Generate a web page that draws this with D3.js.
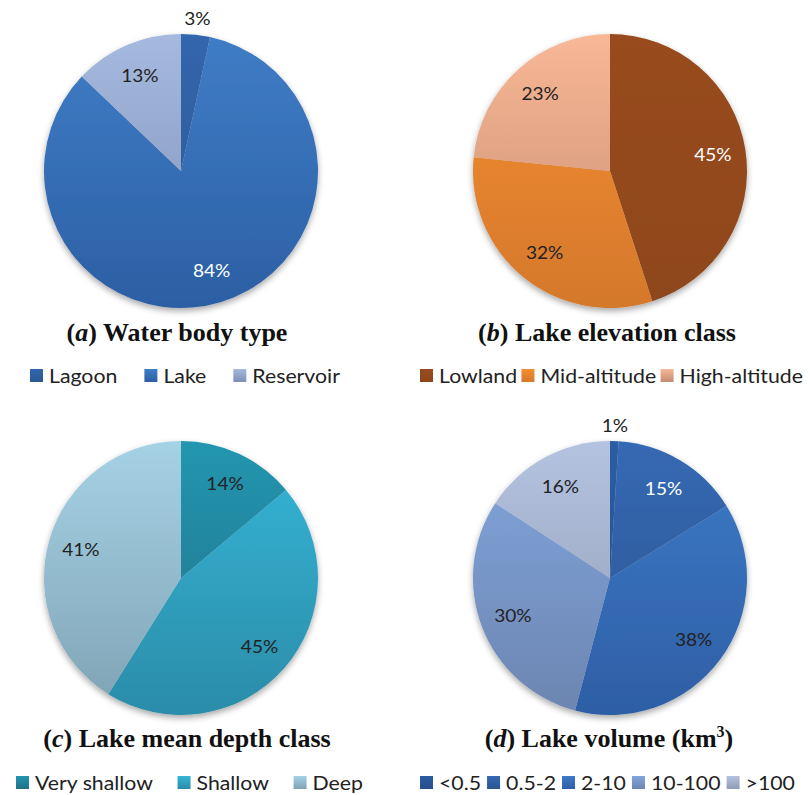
<!DOCTYPE html>
<html>
<head>
<meta charset="utf-8">
<script src="https://cdn.jsdelivr.net/npm/d3@7"></script>
<style>
  html, body { margin: 0; padding: 0; background: #fff; }
  svg { display: block; }
</style>
</head>
<body>
<svg id="chart" width="810" height="795"></svg>
<script>
// ---------- Data ----------
const waterCategories = ["Lagoon", "Lake", "Reservoir"];
const waterValues = [3.4, 83.7, 12.9];

const elevationCategories = ["Lowland", "Mid-altitude", "High-altitude"];
const elevationValues = [45, 31.6, 23.4];

const depthCategories = ["Very shallow", "Shallow", "Deep"];
const depthValues = [13.9, 45, 41.1];

const volumeCategories = ["<0.5", "0.5-2", "2-10", "10-100", ">100"];
const volumeValues = [1, 15.2, 37.9, 30.1, 15.8];

// ---------- Styles / layout ----------
const panels = [
  { cats: waterCategories, vals: waterValues, letter: "a", title: " Water body type",
    cx: 181, cy: 171, titleX: 177, titleY: 341, legendY: 376, legendX: 30, legendEnd: 340,
    top: ["#3366ad", "#3f7dc6", "#a6b9de"], bottom: ["#2a5893", "#2c5fa4", "#7d8fb6"],
    labelColors: ["#222", "#fff", "#222"] },
  { cats: elevationCategories, vals: elevationValues, letter: "b", title: " Lake elevation class",
    cx: 610, cy: 171, titleX: 607, titleY: 341, legendY: 376, legendX: 420, legendEnd: 803,
    top: ["#984c1d", "#f68e30", "#f9b897"], bottom: ["#8e461b", "#d4782c", "#c48b6f"],
    labelColors: ["#fff", "#222", "#222"] },
  { cats: depthCategories, vals: depthValues, letter: "c", title: " Lake mean depth class",
    cx: 181, cy: 578, titleX: 187, titleY: 747, legendY: 783, legendX: 16, legendEnd: 363,
    top: ["#2196b0", "#35b6d8", "#a6d2e6"], bottom: ["#226f87", "#2b8ca8", "#7fa2b4"],
    labelColors: ["#222", "#222", "#222"] },
  { cats: volumeCategories, vals: volumeValues, letter: "d", title: " Lake volume (km",
    sup: "3", cx: 610, cy: 578, titleX: 609, titleY: 747, legendY: 783, legendX: 420, legendEnd: 795,
    top: ["#2b5da3", "#3569b3", "#3d7bc8", "#82a6de", "#b4c3e0"],
    bottom: ["#264f8a", "#2a5590", "#2e5ea5", "#6c85b0", "#8f9bb6"],
    labelColors: ["#222", "#fff", "#222", "#222", "#222"] }
];

const R = 137;
const svg = d3.select("#chart");
const defs = svg.append("defs");

const shadow = defs.append("filter").attr("id", "shadow")
  .attr("x", "-20%").attr("y", "-20%").attr("width", "140%").attr("height", "140%");
shadow.append("feDropShadow").attr("dx", 0).attr("dy", 3).attr("stdDeviation", 3)
  .attr("flood-color", "#000").attr("flood-opacity", 0.35);

const pie = d3.pie().sort(null).value(d => d);
const arc = d3.arc().innerRadius(0).outerRadius(R);
const labelArc = d3.arc().innerRadius(R * 0.76).outerRadius(R * 0.76);
const outerLabelArc = d3.arc().innerRadius(R + 16).outerRadius(R + 16);

const labelFont = "Lato, 'Open Sans', sans-serif";
const STRETCH = 1.12;

panels.forEach((p, pi) => {
  const total = d3.sum(p.vals);
  const color = d3.scaleOrdinal().domain(p.cats).range(p.top);

  p.cats.forEach((c, i) => {
    const g = defs.append("linearGradient").attr("id", `g${pi}_${i}`)
      .attr("gradientUnits", "userSpaceOnUse")
      .attr("x1", 0).attr("x2", 0).attr("y1", -R).attr("y2", R);
    g.append("stop").attr("offset", "0%").attr("stop-color", color(c));
    g.append("stop").attr("offset", "100%").attr("stop-color", p.bottom[i]);
    const lgr = defs.append("linearGradient").attr("id", `lg${pi}_${i}`)
      .attr("x1", 0).attr("x2", 0).attr("y1", 0).attr("y2", 1);
    lgr.append("stop").attr("offset", "0%").attr("stop-color", color(c));
    lgr.append("stop").attr("offset", "100%").attr("stop-color", p.bottom[i]);
  });

  const arcs = pie(p.vals);
  const gPie = svg.append("g").attr("transform", `translate(${p.cx},${p.cy})`);
  gPie.append("g").attr("filter", "url(#shadow)")
    .selectAll("path").data(arcs).join("path")
    .attr("d", arc)
    .attr("fill", (d, i) => `url(#g${pi}_${i})`);

  gPie.selectAll("text.lbl").data(arcs).join("text")
    .attr("class", "lbl")
    .attr("transform", d => {
      const small = (d.value / total) < 0.05;
      const c = small ? outerLabelArc.centroid(d) : labelArc.centroid(d);
      return `translate(${c[0]},${c[1]}) scale(1.06,1)`;
    })
    .attr("text-anchor", "middle")
    .attr("dy", "0.36em")
    .attr("font-family", labelFont)
    .attr("font-size", 18)
    .attr("fill", (d, i) => (d.value / total) < 0.05 ? "#222" : p.labelColors[i])
    .text(d => Math.round(d.value / total * 100) + "%");

  // title
  const t = svg.append("text")
    .attr("x", p.titleX).attr("y", p.titleY)
    .attr("text-anchor", "middle")
    .attr("font-family", "'Liberation Serif', 'Times New Roman', serif")
    .attr("font-weight", "bold")
    .attr("font-size", 26)
    .attr("fill", "#111");
  t.append("tspan").text("(");
  t.append("tspan").attr("font-style", "italic").text(p.letter);
  t.append("tspan").text(")" + p.title);
  if (p.sup) {
    t.append("tspan").attr("font-size", 16).attr("dy", -10).text(p.sup);
    t.append("tspan").attr("dy", 10).text(")");
  }

  // legend: measure, then spread items evenly between legendX and legendEnd
  const lg = svg.append("g");
  const items = p.cats.map((c, i) => {
    const rect = lg.append("rect").attr("y", p.legendY - 7).attr("width", 13).attr("height", 13)
      .attr("fill", `url(#lg${pi}_${i})`);
    const txt = lg.append("text")
      .attr("dy", "0.35em")
      .attr("font-family", labelFont)
      .attr("font-size", 19)
      .attr("fill", "#222")
      .text(c);
    return { rect, txt, w: 19 + txt.node().getComputedTextLength() * STRETCH };
  });
  const totalW = d3.sum(items, d => d.w);
  const gap = items.length > 1 ? (p.legendEnd - p.legendX - totalW) / (items.length - 1) : 0;
  let x = p.legendX;
  items.forEach(it => {
    it.rect.attr("x", x);
    it.txt.attr("transform", `translate(${x + 19},${p.legendY}) scale(${STRETCH},1)`);
    x += it.w + gap;
  });
});
</script>
</body>
</html>
